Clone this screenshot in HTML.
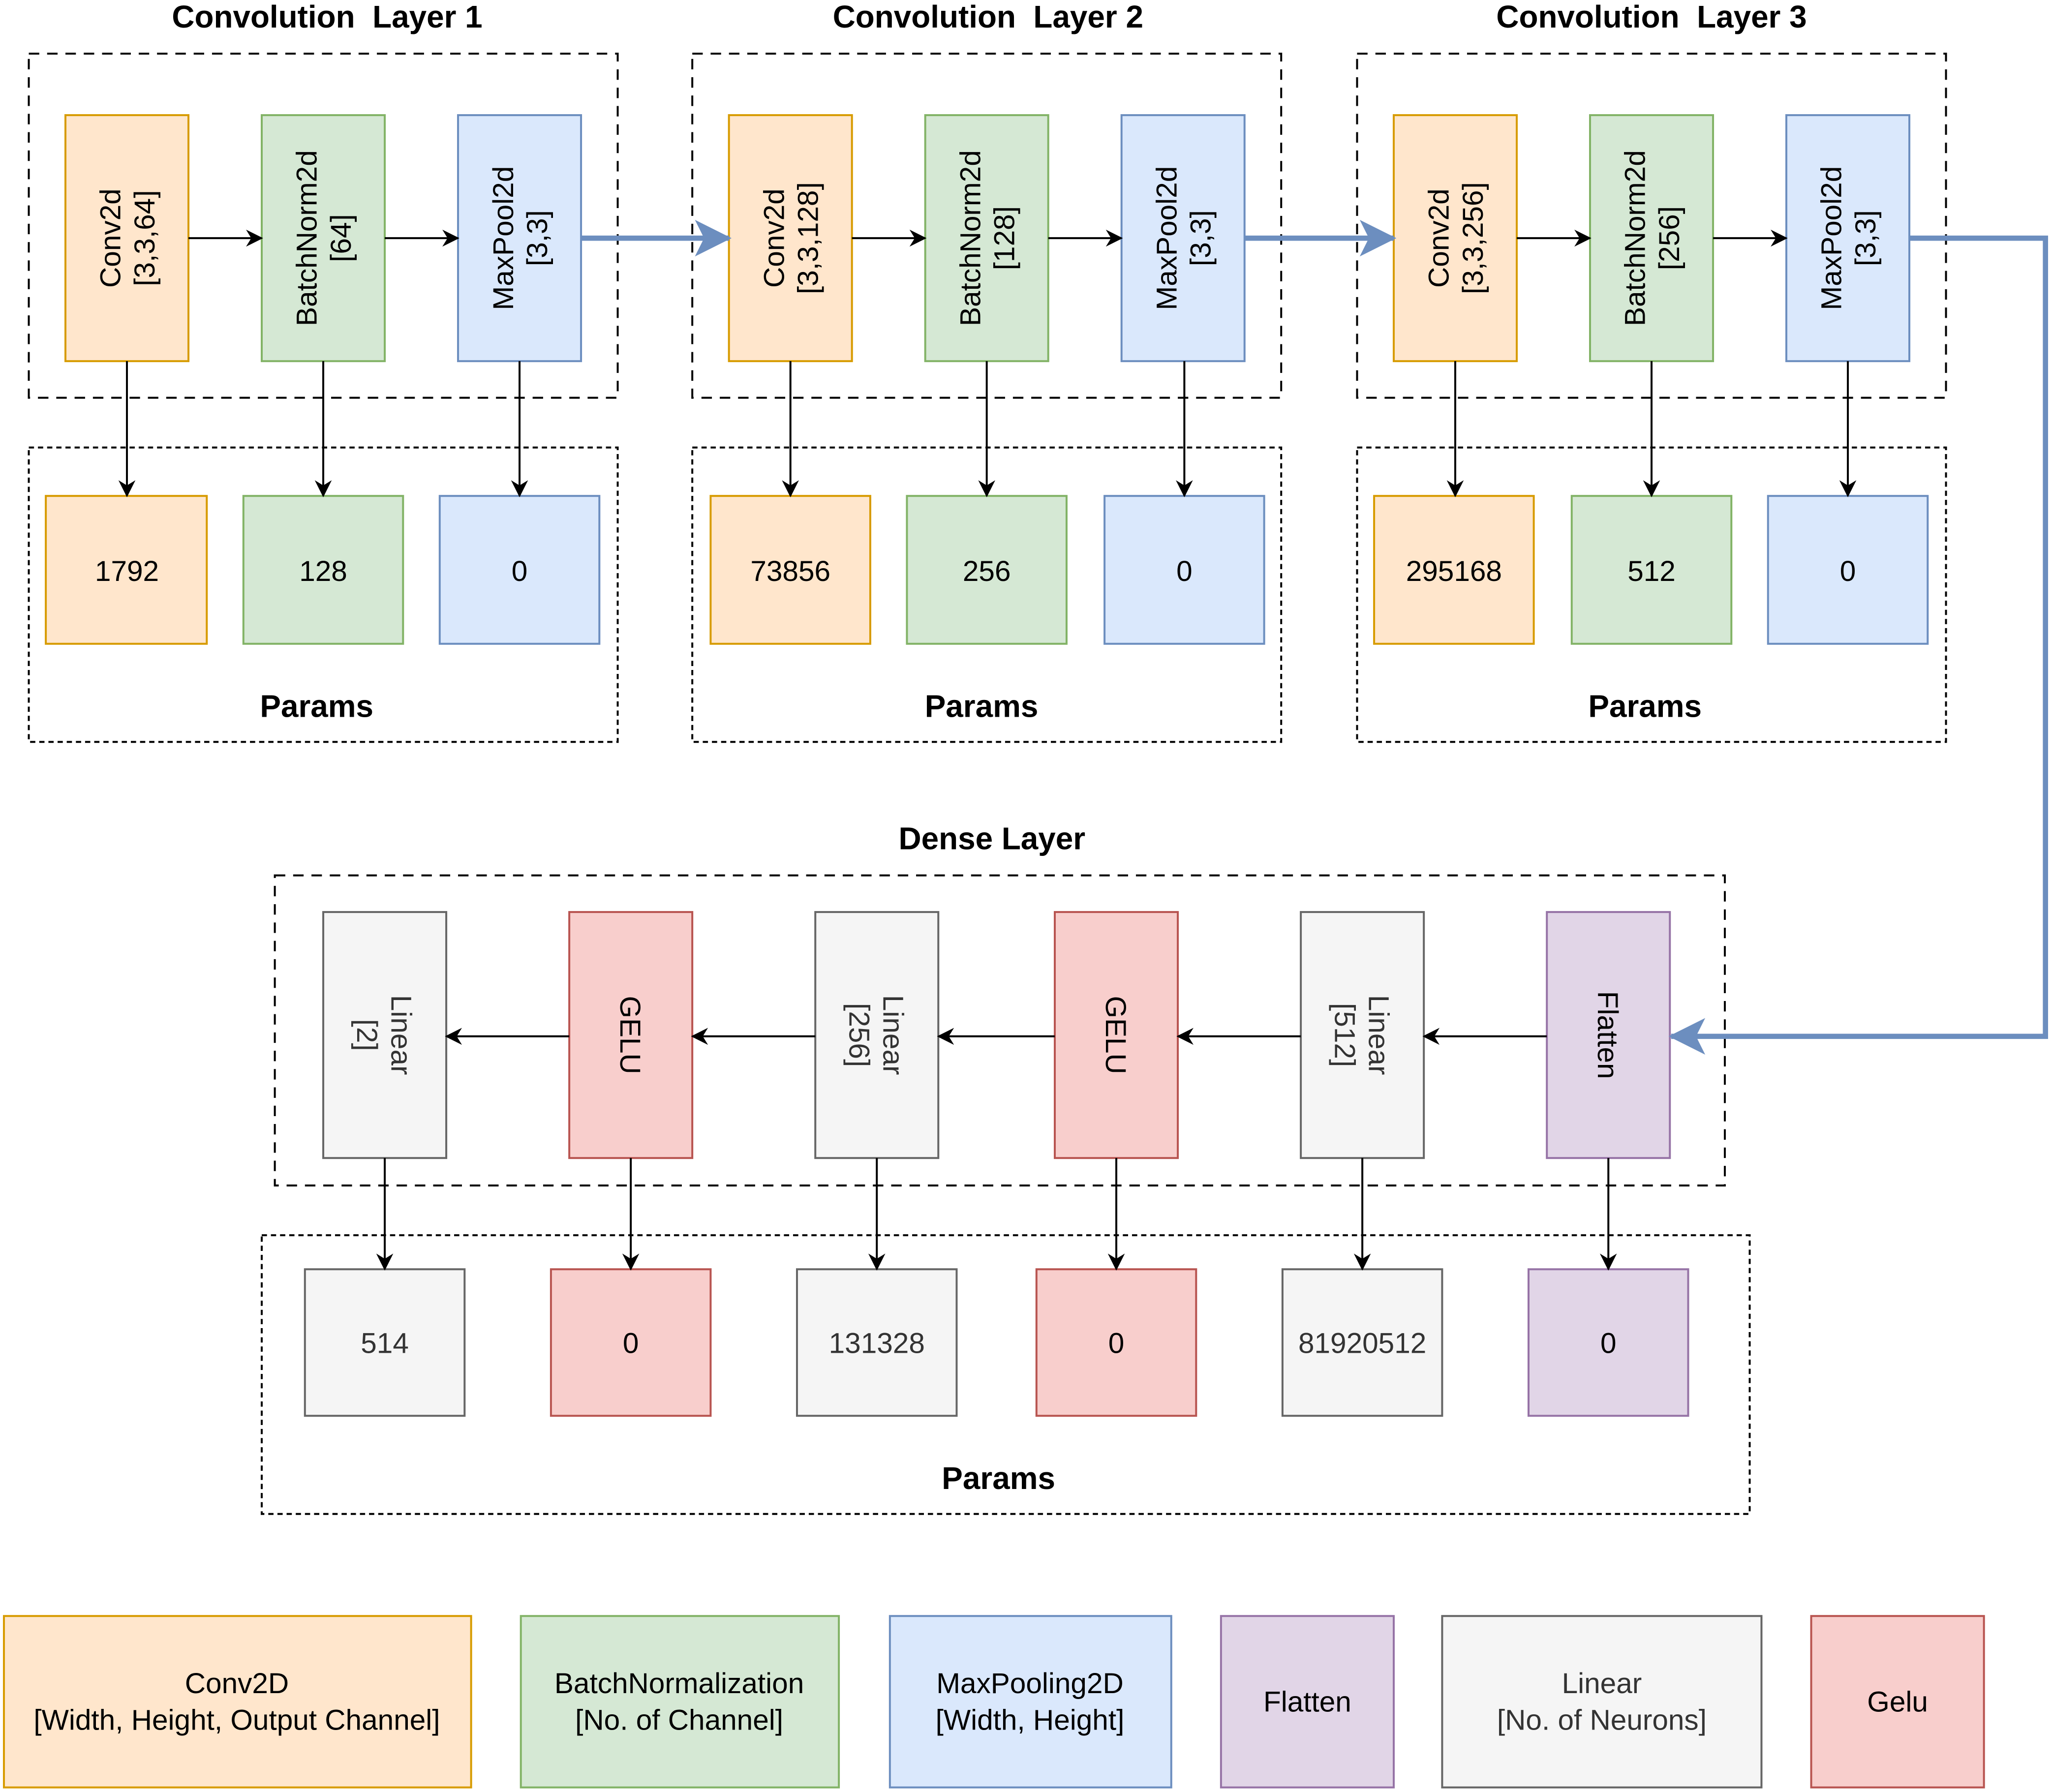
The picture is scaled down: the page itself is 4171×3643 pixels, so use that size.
<!DOCTYPE html>
<html><head><meta charset="utf-8"><style>html,body{margin:0;padding:0;background:#fff}svg{display:block}</style></head><body>
<svg xmlns="http://www.w3.org/2000/svg" width="4171" height="3643" viewBox="0 0 1568 1369.5" preserveAspectRatio="none" font-family="Liberation Sans, Arial, sans-serif">
<defs>
<marker id="a" markerWidth="13" markerHeight="13" refX="12" refY="6.5" orient="auto" markerUnits="userSpaceOnUse" viewBox="0 0 13 13"><path d="M0,0 L13,6.5 L0,13 L4,6.5 z" fill="#000"/></marker>
<marker id="b" markerWidth="28" markerHeight="28" refX="26" refY="14" orient="auto" markerUnits="userSpaceOnUse" viewBox="0 0 28 28"><path d="M0,0 L28,14 L0,28 L7,14 z" fill="#6c8ebf"/></marker>
</defs>
<g font-size="24" font-weight="bold" text-anchor="middle" fill="#000">
<text x="250" y="21">Convolution &#160;Layer 1</text>
<text x="755" y="21">Convolution &#160;Layer 2</text>
<text x="1262" y="21">Convolution &#160;Layer 3</text>
<text x="758" y="649">Dense Layer</text>
<text x="242" y="548">Params</text>
<text x="750" y="548">Params</text>
<text x="1257" y="548">Params</text>
<text x="763" y="1138">Params</text>
</g>
<g fill="none" stroke="#000" stroke-width="1.5" stroke-dasharray="8,6">
<rect x="22" y="41" width="450" height="263"/>
<rect x="529" y="41" width="450" height="263"/>
<rect x="1037" y="41" width="450" height="263"/>
<rect x="210" y="669" width="1108" height="237"/>
</g>
<g fill="none" stroke="#000" stroke-width="1.5" stroke-dasharray="4,3">
<rect x="22" y="342" width="450" height="225"/>
<rect x="529" y="342" width="450" height="225"/>
<rect x="1037" y="342" width="450" height="225"/>
<rect x="200" y="944" width="1137" height="213"/>
</g>
<g stroke-width="1.5">
<rect x="50" y="88" width="94" height="188" fill="#ffe6cc" stroke="#d79b00"/>
<rect x="200" y="88" width="94" height="188" fill="#d5e8d4" stroke="#82b366"/>
<rect x="350" y="88" width="94" height="188" fill="#dae8fc" stroke="#6c8ebf"/>
<rect x="557" y="88" width="94" height="188" fill="#ffe6cc" stroke="#d79b00"/>
<rect x="707" y="88" width="94" height="188" fill="#d5e8d4" stroke="#82b366"/>
<rect x="857" y="88" width="94" height="188" fill="#dae8fc" stroke="#6c8ebf"/>
<rect x="1065" y="88" width="94" height="188" fill="#ffe6cc" stroke="#d79b00"/>
<rect x="1215" y="88" width="94" height="188" fill="#d5e8d4" stroke="#82b366"/>
<rect x="1365" y="88" width="94" height="188" fill="#dae8fc" stroke="#6c8ebf"/>
<rect x="35" y="379" width="123" height="113" fill="#ffe6cc" stroke="#d79b00"/>
<rect x="186" y="379" width="122" height="113" fill="#d5e8d4" stroke="#82b366"/>
<rect x="336" y="379" width="122" height="113" fill="#dae8fc" stroke="#6c8ebf"/>
<rect x="543" y="379" width="122" height="113" fill="#ffe6cc" stroke="#d79b00"/>
<rect x="693" y="379" width="122" height="113" fill="#d5e8d4" stroke="#82b366"/>
<rect x="844" y="379" width="122" height="113" fill="#dae8fc" stroke="#6c8ebf"/>
<rect x="1050" y="379" width="122" height="113" fill="#ffe6cc" stroke="#d79b00"/>
<rect x="1201" y="379" width="122" height="113" fill="#d5e8d4" stroke="#82b366"/>
<rect x="1351" y="379" width="122" height="113" fill="#dae8fc" stroke="#6c8ebf"/>
<rect x="247" y="697" width="94" height="188" fill="#f5f5f5" stroke="#666"/>
<rect x="435" y="697" width="94" height="188" fill="#f8cecc" stroke="#b85450"/>
<rect x="623" y="697" width="94" height="188" fill="#f5f5f5" stroke="#666"/>
<rect x="806" y="697" width="94" height="188" fill="#f8cecc" stroke="#b85450"/>
<rect x="994" y="697" width="94" height="188" fill="#f5f5f5" stroke="#666"/>
<rect x="1182" y="697" width="94" height="188" fill="#e1d5e7" stroke="#9673a6"/>
<rect x="233" y="970" width="122" height="112" fill="#f5f5f5" stroke="#666"/>
<rect x="421" y="970" width="122" height="112" fill="#f8cecc" stroke="#b85450"/>
<rect x="609" y="970" width="122" height="112" fill="#f5f5f5" stroke="#666"/>
<rect x="792" y="970" width="122" height="112" fill="#f8cecc" stroke="#b85450"/>
<rect x="980" y="970" width="122" height="112" fill="#f5f5f5" stroke="#666"/>
<rect x="1168" y="970" width="122" height="112" fill="#e1d5e7" stroke="#9673a6"/>
<rect x="3" y="1235" width="357" height="131" fill="#ffe6cc" stroke="#d79b00"/>
<rect x="398" y="1235" width="243" height="131" fill="#d5e8d4" stroke="#82b366"/>
<rect x="680" y="1235" width="215" height="131" fill="#dae8fc" stroke="#6c8ebf"/>
<rect x="933" y="1235" width="132" height="131" fill="#e1d5e7" stroke="#9673a6"/>
<rect x="1102" y="1235" width="244" height="131" fill="#f5f5f5" stroke="#666"/>
<rect x="1384" y="1235" width="132" height="131" fill="#f8cecc" stroke="#b85450"/>
</g>
<g font-size="22" text-anchor="middle" fill="#000">
<text transform="translate(97,182) rotate(-90)"><tspan x="0" y="-5">Conv2d</tspan><tspan x="0" y="21">[3,3,64]</tspan></text>
<text transform="translate(247,182) rotate(-90)"><tspan x="0" y="-5">BatchNorm2d</tspan><tspan x="0" y="21">[64]</tspan></text>
<text transform="translate(397,182) rotate(-90)"><tspan x="0" y="-5">MaxPool2d</tspan><tspan x="0" y="21">[3,3]</tspan></text>
<text transform="translate(604,182) rotate(-90)"><tspan x="0" y="-5">Conv2d</tspan><tspan x="0" y="21">[3,3,128]</tspan></text>
<text transform="translate(754,182) rotate(-90)"><tspan x="0" y="-5">BatchNorm2d</tspan><tspan x="0" y="21">[128]</tspan></text>
<text transform="translate(904,182) rotate(-90)"><tspan x="0" y="-5">MaxPool2d</tspan><tspan x="0" y="21">[3,3]</tspan></text>
<text transform="translate(1112,182) rotate(-90)"><tspan x="0" y="-5">Conv2d</tspan><tspan x="0" y="21">[3,3,256]</tspan></text>
<text transform="translate(1262,182) rotate(-90)"><tspan x="0" y="-5">BatchNorm2d</tspan><tspan x="0" y="21">[256]</tspan></text>
<text transform="translate(1412,182) rotate(-90)"><tspan x="0" y="-5">MaxPool2d</tspan><tspan x="0" y="21">[3,3]</tspan></text>
<text transform="translate(294,791) rotate(90)" fill="#333"><tspan x="0" y="-5">Linear</tspan><tspan x="0" y="21">[2]</tspan></text>
<text transform="translate(482,791) rotate(90)"><tspan x="0" y="8">GELU</tspan></text>
<text transform="translate(670,791) rotate(90)" fill="#333"><tspan x="0" y="-5">Linear</tspan><tspan x="0" y="21">[256]</tspan></text>
<text transform="translate(853,791) rotate(90)"><tspan x="0" y="8">GELU</tspan></text>
<text transform="translate(1041,791) rotate(90)" fill="#333"><tspan x="0" y="-5">Linear</tspan><tspan x="0" y="21">[512]</tspan></text>
<text transform="translate(1229,791) rotate(90)"><tspan x="0" y="8">Flatten</tspan></text>
<text x="97" y="444">1792</text><text x="247" y="444">128</text><text x="397" y="444">0</text>
<text x="604" y="444">73856</text><text x="754" y="444">256</text><text x="905" y="444">0</text>
<text x="1111" y="444">295168</text><text x="1262" y="444">512</text><text x="1412" y="444">0</text>
<g fill="#333"><text x="294" y="1034">514</text><text x="670" y="1034">131328</text><text x="1041" y="1034">81920512</text></g>
<text x="482" y="1034">0</text><text x="853" y="1034">0</text><text x="1229" y="1034">0</text>
<text x="181" y="1294">Conv2D</text><text x="181" y="1322">[Width, Height, Output Channel]</text>
<text x="519" y="1294">BatchNormalization</text><text x="519" y="1322">[No. of Channel]</text>
<text x="787" y="1294">MaxPooling2D</text><text x="787" y="1322">[Width, Height]</text>
<text x="999" y="1308">Flatten</text>
<text x="1224" y="1294" fill="#333">Linear</text><text x="1224" y="1322" fill="#333">[No. of Neurons]</text>
<text x="1450" y="1308">Gelu</text>
</g>
<g stroke="#000" stroke-width="1.5" marker-end="url(#a)">
<line x1="144" y1="182" x2="200" y2="182"/><line x1="294" y1="182" x2="350" y2="182"/>
<line x1="651" y1="182" x2="707" y2="182"/><line x1="801" y1="182" x2="857" y2="182"/>
<line x1="1159" y1="182" x2="1215" y2="182"/><line x1="1309" y1="182" x2="1365" y2="182"/>
<line x1="97" y1="276" x2="97" y2="379"/><line x1="247" y1="276" x2="247" y2="379"/><line x1="397" y1="276" x2="397" y2="379"/>
<line x1="604" y1="276" x2="604" y2="379"/><line x1="754" y1="276" x2="754" y2="379"/><line x1="905" y1="276" x2="905" y2="379"/>
<line x1="1112" y1="276" x2="1112" y2="379"/><line x1="1262" y1="276" x2="1262" y2="379"/><line x1="1412" y1="276" x2="1412" y2="379"/>
<line x1="1182" y1="792" x2="1088" y2="792"/><line x1="994" y1="792" x2="900" y2="792"/><line x1="806" y1="792" x2="717" y2="792"/>
<line x1="623" y1="792" x2="529" y2="792"/><line x1="435" y1="792" x2="341" y2="792"/>
<line x1="294" y1="885" x2="294" y2="970"/><line x1="482" y1="885" x2="482" y2="970"/><line x1="670" y1="885" x2="670" y2="970"/>
<line x1="853" y1="885" x2="853" y2="970"/><line x1="1041" y1="885" x2="1041" y2="970"/><line x1="1229" y1="885" x2="1229" y2="970"/>
</g>
<g stroke="#6c8ebf" stroke-width="4" fill="none" marker-end="url(#b)">
<line x1="444" y1="182" x2="557" y2="182"/>
<line x1="951" y1="182" x2="1065" y2="182"/>
<polyline points="1459,182 1563,182 1563,792 1277,792"/>
</g>
</svg>
</body></html>
